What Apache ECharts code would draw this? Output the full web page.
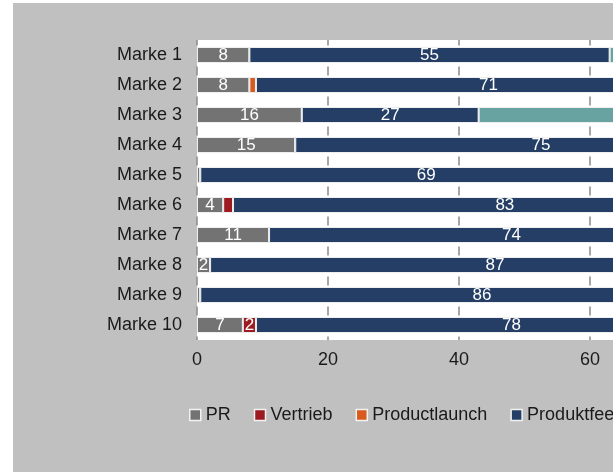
<!DOCTYPE html>
<html>
<head>
<meta charset="utf-8">
<script src="https://cdn.jsdelivr.net/npm/echarts@6/dist/echarts.min.js"></script>
<style>
  html, body { margin: 0; padding: 0; background: #ffffff; width: 613px; height: 472px; overflow: hidden; position: relative; }
  #chart { position: absolute; left: 13px; top: 3px; width: 900px; height: 469px; }
</style>
</head>
<body>
<div id="chart"></div>
<script>
// Brands, top to bottom
var categories = ['Marke 1', 'Marke 2', 'Marke 3', 'Marke 4', 'Marke 5',
                  'Marke 6', 'Marke 7', 'Marke 8', 'Marke 9', 'Marke 10'];

// Share per topic (%)
var prValues       = [8, 8, 16, 15, 0.5, 4, 11, 2, 0.5, 7];
var vertriebValues = [0, 0, 0, 0, 0, 1.5, 0, 0, 0, 2];
var launchValues   = [0, 1, 0, 0, 0, 0, 0, 0, 0, 0];
var feedbackValues = [55, 71, 27, 75, 69, 83, 74, 87, 86, 78];
var sonstigeValues = [37, 20, 57, 10, 30.5, 11.5, 15, 11, 13.5, 13];

var xTicks = { min: 0, max: 100, step: 20 };

var seriesDefs = [
  { name: 'PR',              data: prValues,       color: '#737373' },
  { name: 'Vertrieb',        data: vertriebValues, color: '#9b1b20' },
  { name: 'Productlaunch',   data: launchValues,   color: '#d85a1c' },
  { name: 'Produktfeedback', data: feedbackValues, color: '#243e65' },
  { name: 'Sonstiges',       data: sonstigeValues, color: '#68a3a2' }
];

var FONT = 'Liberation Sans, Arial, sans-serif';

var chart = echarts.init(document.getElementById('chart'), null, { renderer: 'canvas' });

chart.setOption({
  backgroundColor: '#c0c0c0',
  animation: false,
  grid: {
    left: 184,
    top: 37,
    width: 655,
    height: 300,
    show: true,
    backgroundColor: '#ffffff',
    borderWidth: 0,
    containLabel: false
  },
  legend: {
    left: 171,
    top: 398,
    itemWidth: 11,
    itemHeight: 11,
    itemGap: 23,
    icon: 'rect',
    itemStyle: { borderColor: '#f2f2f2', borderWidth: 1.5 },
    textStyle: { fontFamily: FONT, fontSize: 18, color: '#1a1a1a' },
    data: seriesDefs.map(function (s) { return s.name; })
  },
  xAxis: {
    type: 'value',
    min: xTicks.min,
    max: xTicks.max,
    interval: xTicks.step,
    axisLine: { show: false },
    axisTick: { show: false },
    axisLabel: { margin: 11, fontFamily: FONT, fontSize: 18, color: '#1a1a1a' },
    splitLine: {
      show: true,
      lineStyle: { color: '#8a8a8a', width: 1.5, type: [9, 21], dashOffset: 3.5 }
    }
  },
  yAxis: {
    type: 'category',
    inverse: true,
    data: categories,
    axisLine: { show: false },
    axisTick: { show: false },
    axisLabel: { margin: 15, fontFamily: FONT, fontSize: 18, color: '#1a1a1a' }
  },
  series: seriesDefs.map(function (s) {
    return {
      name: s.name,
      type: 'bar',
      stack: 'total',
      barWidth: 16,
      data: s.data,
      itemStyle: { color: s.color, borderColor: '#eeeeee', borderWidth: 1 },
      label: {
        show: true,
        position: 'inside',
        fontFamily: FONT,
        fontSize: 17,
        color: '#ffffff',
        formatter: function (p) {
          return p.value >= 2 ? String(Math.round(p.value)) : '';
        }
      }
    };
  })
});
</script>
</body>
</html>
